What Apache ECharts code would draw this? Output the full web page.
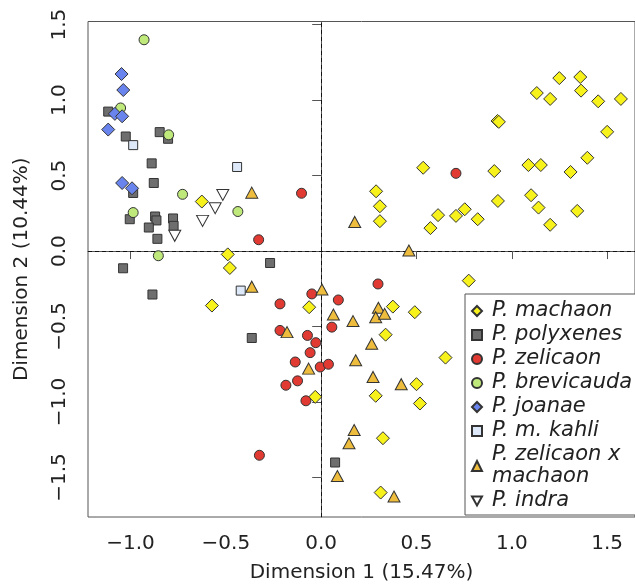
<!DOCTYPE html>
<html>
<head>
<meta charset="utf-8">
<script src="https://cdn.jsdelivr.net/npm/echarts@6/dist/echarts.min.js"></script>
<style>
  html, body { margin: 0; padding: 0; background: #fff; }
  #chart { width: 635px; height: 588px; }
</style>
</head>
<body>
<div id="chart"></div>
<script>
// ---- Data (Dimension 1, Dimension 2) ----
const machaon = [
  [-0.626,0.328],[-0.490,-0.022],[-0.479,-0.112],[-0.573,-0.361],[-0.063,-0.372],[-0.031,-0.966],
  [0.376,-0.368],[0.338,-0.554],[0.286,-0.959],[0.324,-1.240],[0.491,-0.405],[0.652,-0.706],
  [0.500,-0.882],[0.518,-1.010],[0.312,-1.600],[0.774,-0.196],
  [0.288,0.396],[0.308,0.297],[0.308,0.198],[0.535,0.552],[0.573,0.152],[0.613,0.238],
  [0.707,0.233],[0.753,0.277],[0.821,0.211],[0.908,0.530],[0.925,0.862],[0.932,0.856],
  [0.927,0.332],[1.087,0.570],[1.152,0.570],[1.101,0.370],[1.140,0.288],[1.201,0.174],
  [1.343,0.266],[1.308,0.524],[1.396,0.618],[1.500,0.790],[1.131,1.047],[1.201,1.008],
  [1.249,1.146],[1.359,1.153],[1.363,1.063],[1.453,0.992],[1.572,1.008]
];
const polyxenes = [
  [-1.117,0.924],[-1.025,0.759],[-0.847,0.788],[-0.803,0.744],[-0.889,0.581],[-0.878,0.451],
  [-0.986,0.385],[-1.004,0.211],[-0.871,0.229],[-0.864,0.203],[-0.904,0.156],[-0.777,0.216],
  [-0.774,0.167],[-0.859,0.081],[-1.039,-0.114],[-0.268,-0.079],[-0.885,-0.288],[-0.364,-0.576],
  [0.073,-1.401]
];
const zelicaon = [
  [-0.103,0.383],[-0.328,0.075],[0.707,0.515],[0.298,-0.218],[-0.049,-0.284],[-0.216,-0.350],
  [0.090,-0.324],[0.056,-0.504],[-0.216,-0.526],[-0.072,-0.559],[-0.028,-0.607],[-0.058,-0.673],
  [-0.136,-0.735],[-0.005,-0.768],[0.038,-0.750],[-0.124,-0.860],[-0.185,-0.889],[-0.080,-0.992],
  [-0.324,-1.353]
];
const brevicauda = [
  [-0.929,1.400],[-1.052,0.948],[-0.800,0.770],[-0.727,0.376],[-0.437,0.262],[-0.986,0.255],
  [-0.854,-0.031]
];
const joanae = [
  [-1.047,1.173],[-1.038,1.067],[-1.082,0.909],[-1.044,0.893],[-1.117,0.805],[-1.044,0.451],
  [-0.992,0.416]
];
const kahli = [
  [-0.986,0.702],[-0.441,0.557],[-0.422,-0.262]
];
const zelXmach = [
  [-0.364,0.387],[-0.364,-0.236],[0.176,0.193],[0.460,0.004],[0.004,-0.255],[0.064,-0.420],
  [0.167,-0.464],[-0.179,-0.537],[0.300,-0.376],[0.286,-0.438],[0.333,-0.416],[0.265,-0.614],
  [-0.066,-0.779],[0.181,-0.724],[0.272,-0.834],[0.420,-0.882],[0.173,-1.186],[0.146,-1.274],
  [0.085,-1.490],[0.382,-1.626]
];
const indra = [
  [-0.516,0.372],[-0.556,0.284],[-0.622,0.200],[-0.768,0.101]
];

const seriesNames = ['P. machaon','P. polyxenes','P. zelicaon','P. brevicauda','P. joanae','P. m. kahli','P. zelicaon x\nmachaon','P. indra'];
const xTicks = [-1.0,-0.5,0.0,0.5,1.0,1.5];
const yTicks = [-1.5,-1.0,-0.5,0.0,0.5,1.0,1.5];

const fmt = v => (v < 0 ? '\u2212' : '') + Math.abs(v).toFixed(1);
const FONT = 'DejaVu Sans';
const TXT = '#222';
const BORDER = '#333';
const FS = 20;

function mk(name, data, symbol, size, color, z) {
  return {
    name, type: 'scatter', data, symbol, symbolSize: size, z: z || 2,
    itemStyle: { color, borderColor: BORDER, borderWidth: 1, opacity: 1 },
    emphasis: { disabled: true }
  };
}
const downTri = 'path://M0,0 L10,0 L5,9 Z';

const series = [
  mk(seriesNames[0], machaon, 'diamond', 13, '#f7f21c'),
  mk(seriesNames[1], polyxenes, 'rect', 9, '#6e6e6e'),
  mk(seriesNames[2], zelicaon, 'circle', 10, '#e03a32'),
  mk(seriesNames[3], brevicauda, 'circle', 10, '#bfe97a'),
  mk(seriesNames[4], joanae, 'diamond', 13, '#6a84ee'),
  mk(seriesNames[5], kahli, 'rect', 9, '#dde8f8'),
  mk(seriesNames[6], zelXmach, 'triangle', [12,11], '#eebd3e'),
  mk(seriesNames[7], indra, downTri, [12,11], '#ffffff')
];
series[0].markLine = {
  silent: true, symbol: 'none', animation: false,
  label: { show: false },
  lineStyle: { color: '#111', type: [4,3], width: 1 },
  data: [{ xAxis: 0 }, { yAxis: 0 }],
  z: 1
};

const chart = echarts.init(document.getElementById('chart'), null, { renderer: 'canvas' });
chart.setOption({
  animation: false,
  backgroundColor: '#fff',
  textStyle: { fontFamily: FONT },
  grid: { left: 88, top: 21.5, right: -2, bottom: 69, show: true, borderColor: '#555', borderWidth: 1, containLabel: false },
  xAxis: {
    type: 'value', min: -1.223, max: 1.646,
    name: 'Dimension 1 (15.47%)', nameLocation: 'middle', nameGap: 46,
    nameTextStyle: { fontSize: FS, color: TXT, fontFamily: FONT },
    axisLine: { show: true, lineStyle: { color: '#555' } },
    axisTick: { show: true, length: 8, customValues: xTicks, lineStyle: { color: '#555' } },
    axisLabel: { customValues: xTicks, formatter: fmt, fontSize: FS, color: TXT, margin: 17, fontFamily: FONT },
    splitLine: { show: false }
  },
  yAxis: {
    type: 'value', min: -1.762, max: 1.521,
    name: 'Dimension 2 (10.44%)', nameLocation: 'middle', nameGap: 56,
    nameTextStyle: { fontSize: FS, color: TXT, fontFamily: FONT },
    axisLine: { show: true, lineStyle: { color: '#555' } },
    axisTick: { show: true, length: 9, customValues: yTicks, lineStyle: { color: '#555' } },
    axisLabel: { customValues: yTicks, formatter: fmt, fontSize: FS, color: TXT, margin: 18, rotate: 90, fontFamily: FONT },
    splitLine: { show: false }
  },
  legend: {
    orient: 'vertical', left: 465, top: 294,
    backgroundColor: '#fff', borderColor: '#555', borderWidth: 1,
    padding: [6, 40, 3, 6],
    itemWidth: 10, itemHeight: 10, itemGap: 2,
    textStyle: { fontSize: 21, fontStyle: 'italic', color: TXT, fontFamily: FONT, lineHeight: 22, padding: [0, 0, 0, 5] },
    data: seriesNames,
    selectedMode: false
  },
  series
});
</script>
</body>
</html>
